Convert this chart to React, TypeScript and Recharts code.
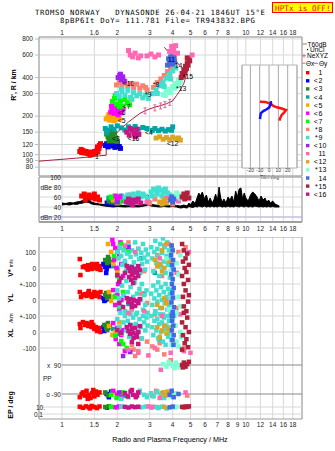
import React from 'react';
import {
  ComposedChart,
  Scatter,
  Line,
  Area,
  XAxis,
  YAxis,
  CartesianGrid,
  ReferenceLine,
  ReferenceArea,
} from 'recharts';

type Pt = [number, number];

const W = 335;
const FONT = '"Liberation Sans", Arial, sans-serif';
const MONO = '"DejaVu Sans Mono", monospace';

const F_DOMAIN: [number, number] = [0.75, 20.2];
const F_TICKS = [1, 1.5, 2, 3, 4, 5, 6, 7, 8, 9, 10, 12, 14, 16, 18];
const TOP_F_LABEL: Record<number, string> = { 1.5: '1.6', 9: '' };
const H_DOMAIN: [number, number] = [68.2, 829];
const H_TICKS = [80, 90, 100, 120, 150, 200, 300, 400, 600, 800];
const DB_DOMAIN: [number, number] = [10, 100];
const DB_TICKS = [20, 40, 60, 80, 100];
const DB_LABEL: Record<number, string> = { 100: '100', 80: 'dBe 80', 60: '60', 40: '40', 20: 'dBn 20' };

// lower panel: one virtual axis, 100 units per band step
const MID_DOMAIN: [number, number] = [-943.75, 193.75];
const YL_OFF = -200;
const XL_OFF = -400;
const X90_ROW = -606.25;
const PP_NAME_ROW = -690;
const PP_ROW = -787.5;
const EP_ROW = -868.75;
const EP_DEC = 21.875;

const TILT_DOMAIN: [number, number] = [-29, 30];
const TILT_TICKS = [-20, -10, 0, 10, 20];
const TILT_H: [number, number] = [78.6, 501];

const NAMES = ['1', '<2', '<3', '<4', '<5', '<6', '<7', '*8', '*9', '<10', '11', '<12', '*13', '14', '*15', '<16'];
const COLORS = [
  '#ff0000', '#0000ff', '#228b22', '#00a5a5', '#ffa500', '#ff00ff', '#00ff00', '#fa8072',
  '#40e0d0', '#a020f0', '#ff69b4', '#daa520', '#7fffd4', '#4169e1', '#b0203c', '#c71585',
];

// ---- virtual height (MHz, km) ----
const h01: Pt[] = [[1.25,106],[1.27,110],[1.28,104],[1.3,108],[1.33,103],[1.35,106],[1.38,102],[1.4,105],[1.42,99],[1.43,101],[1.45,104],[1.48,102],[1.5,106],[1.52,103],[1.55,108],[1.56,115],[1.57,105],[1.59,112],[1.6,118],[1.62,122]];
const h02: Pt[] = [[1.72,118],[1.75,122],[1.78,115],[1.8,120],[1.82,126],[1.84,124],[1.87,117],[1.9,121],[1.92,126],[1.94,114],[1.97,119],[2.0,123],[2.05,116],[2.08,112]];
const h03: Pt[] = [[1.75,145],[1.78,138],[1.8,150],[1.8,128],[1.83,132],[1.86,142],[1.88,152],[1.9,128],[1.93,147],[1.96,135],[1.99,127]];
const h04: Pt[] = [[1.72,160],[1.75,148],[1.78,155],[1.85,165],[1.92,158],[2.0,168],[2.1,162],[2.2,156],[2.3,165],[2.4,160],[2.5,166],[2.6,158],[2.75,163],[2.9,160],[3.1,155],[3.2,160],[3.35,154],[3.5,158],[3.65,153],[3.8,157],[3.95,155],[4.0,165]];
const h05: Pt[] = [[1.74,190],[1.78,198],[1.8,206],[1.82,186],[1.86,202],[1.9,193],[1.92,184],[1.95,188],[2.0,200],[2.05,191]];
const h06: Pt[] = [[1.84,215],[1.86,238],[1.88,230],[1.9,245],[1.92,210],[1.96,240],[2.0,222],[2.02,205],[2.05,235],[2.1,212],[2.15,228]];
const h07: Pt[] = [[1.88,260],[1.93,275],[1.95,290],[1.98,248],[2.03,282],[2.05,238],[2.08,262],[2.13,240],[2.2,270],[2.27,255],[2.33,245]];
const h08: Pt[] = [[1.98,350],[2.05,365],[2.12,340],[2.2,372],[2.28,345],[2.36,360],[2.45,335],[2.55,355],[2.65,330],[2.75,345],[2.85,335],[2.9,320],[3.15,335],[3.3,365],[3.45,390],[3.5,360],[3.6,415],[3.75,445],[3.8,400],[3.9,480],[4.05,520],[4.1,570]];
const h09: Pt[] = [[1.98,300],[2.05,285],[2.1,325],[2.12,310],[2.2,292],[2.28,318],[2.36,280],[2.4,270],[2.45,305],[2.55,288],[2.65,300],[2.75,278],[2.85,292],[2.95,275],[3.1,300],[3.25,320],[3.3,300],[3.4,345],[3.55,370],[3.6,340],[3.7,395],[3.85,425],[3.9,390],[4.0,450],[4.15,475]];
const h10: Pt[] = [[2.02,400],[2.06,415],[2.08,425],[2.1,385],[2.14,405],[2.18,375]];
const h11: Pt[] = [[2.3,650],[2.35,600],[2.42,580],[2.5,620],[2.6,570],[2.68,590],[2.9,590],[3.05,610],[3.2,580],[3.35,600],[3.85,640],[3.95,700],[4.0,610],[4.05,660],[4.15,710],[4.25,620],[5.1,600]];
const h12: Pt[] = [[3.25,135],[3.4,138],[3.55,132],[3.7,136],[3.85,131],[4.0,137],[4.15,133],[4.3,135],[4.4,130]];
const h13: Pt[] = [[3.55,295],[3.65,290],[3.7,310],[3.85,325],[3.9,305],[4.0,340],[4.1,330],[4.15,360],[4.25,345],[4.3,380],[4.4,365]];
const h14: Pt[] = [[3.75,500],[3.8,560],[3.85,520],[3.9,580],[3.95,545],[4.0,510],[4.05,570],[4.1,530]];
const h15: Pt[] = [[4.45,400],[4.5,430],[4.55,410],[4.6,460],[4.65,440],[4.7,490],[4.75,470],[4.8,520],[4.8,570],[4.85,500],[4.9,550],[4.95,540]];
const h16: Pt[] = [[2.25,150],[2.32,142],[2.35,160],[2.4,155],[2.48,146],[2.5,138],[2.55,158],[2.62,144]];

// label anchors of the traces (MHz, km)
const TRACE_LABEL_AT: Pt[] = [
  [1.51,97],[1.89,115.6],[1.87,132.6],[2.83,150],[2.01,184],[2.01,215],[2.14,238],[3.12,356],
  [2.83,297],[2.14,362],[3.77,557],[3.72,123],[4.17,330],[4.11,493],[4.54,405],[2.28,134],
];

// electron density profile and its error marks (MHz, km)
const profile: Pt[] = [[0.75,89],[0.9,91],[1.0,92],[1.2,94],[1.4,96],[1.6,98],[1.74,99],[1.74,118],[2.0,150],[2.3,180],[2.65,210],[2.93,225],[3.2,235],[3.45,242],[3.7,250],[3.99,262],[4.2,290],[4.4,320],[4.6,360],[4.75,420],[4.9,490],[4.96,530]];
const profileTop: Pt[] = [[3.6,690],[4.0,580],[4.35,500]];
const neMarks: Pt[] = [[2.83,220],[3.2,232],[3.44,240],[3.63,246],[3.86,256]];

// tilt inset (deg, km)
const tiltX: Pt[] = [[-9.7,259],[-4,258],[2.1,248],[4.6,240],[8.3,234],[13.6,229],[18.2,223],[16.1,213],[13.6,204],[11.8,192],[11.1,184]];
const tiltY: Pt[] = [[-9.7,189],[-8.9,210],[-6.1,219],[-2.5,226],[0.3,234],[2.1,252],[1.8,262]];

// ---- echo amplitude (MHz, dB) ----
const noise: [number, number, number][] = [
  [1.0,44,48],[1.05,45,47],[1.1,44,49],[1.15,46,48],[1.2,45,50],[1.25,47,51],[1.3,48,53],[1.35,50,57],[1.4,49,55],[1.45,46,50],[1.5,45,48],[1.6,44,46],[1.7,42,45],[1.8,41,44],[1.9,40,43],[2.0,41,44],[2.2,40,43],[2.4,41,44],[2.6,40,43],[2.8,42,45],[2.9,43,50],[2.95,44,64],[3.0,43,54],[3.05,42,46],[3.2,41,44],[3.4,40,43],[3.6,41,44],[3.8,40,43],[4.0,41,44],[4.2,40,43],[4.4,38,42],[4.6,39,44],[4.8,38,42],[4.9,41,48],[5.0,40,44],[5.15,39,52],[5.3,41,47],[5.45,40,60],[5.55,42,68],[5.65,41,62],[5.8,40,70],[5.95,42,56],[6.1,40,64],[6.25,41,50],[6.4,40,58],[6.55,42,48],[6.7,40,54],[6.85,41,66],[7.0,40,52],[7.15,42,80],[7.3,41,58],[7.45,40,50],[7.6,41,56],[7.8,40,48],[8.0,42,60],[8.2,40,54],[8.4,41,62],[8.6,40,50],[8.8,42,72],[9.0,41,60],[9.2,40,76],[9.4,42,78],[9.6,41,56],[9.8,40,68],[10.0,42,58],[10.3,40,52],[10.6,41,64],[10.9,40,70],[11.2,42,66],[11.5,41,60],[11.8,40,52],[12.1,41,62],[12.4,40,54],[12.7,41,58],[13.0,40,50],[13.3,41,54],[13.6,40,48],[14.0,41,52],[14.4,40,46],[14.8,40,44],[15.2,40,42],
];
const a01: Pt[] = [[1.28,62],[1.32,66],[1.34,54],[1.36,60],[1.4,64],[1.44,58],[1.48,62],[1.5,66],[1.52,56],[1.56,60],[1.6,54]];
const a02: Pt[] = [[1.76,48],[1.82,54],[1.88,46],[1.95,52]];
const a03: Pt[] = [[1.8,52],[1.85,56],[1.9,50],[1.95,60]];
const a04: Pt[] = [[1.8,58],[2.1,62],[2.3,48]];
const a05: Pt[] = [[1.9,54],[2.0,48],[2.1,56]];
const a06: Pt[] = [[1.95,62],[2.0,56],[2.08,60],[2.15,52]];
const a07: Pt[] = [[1.85,60],[2.05,50],[2.2,54]];
const a08: Pt[] = [[2.35,64],[3.0,48],[3.2,56],[3.6,52],[4.0,46]];
const a09: Pt[] = [[2.2,60],[2.28,64],[2.36,58],[2.4,52],[2.44,66],[2.52,62],[2.6,68],[2.68,60],[2.76,66],[2.84,62],[2.92,58],[3.05,70],[3.1,62],[3.15,76],[3.25,72],[3.3,66],[3.35,78],[3.45,74],[3.5,62],[3.55,70],[3.65,76],[3.75,68],[3.85,64],[3.95,58]];
const a10: Pt[] = [[2.0,50]];
const a11: Pt[] = [[2.9,50],[3.7,58],[4.3,52]];
const a12: Pt[] = [[3.4,50],[3.5,46],[3.6,54],[3.7,48]];
const a13: Pt[] = [[4.1,62],[4.2,68],[4.3,64],[4.4,58]];
const a14: Pt[] = [[3.9,54],[3.95,60],[4.0,50],[4.05,56]];
const a15: Pt[] = [[4.5,60],[4.6,66],[4.65,56],[4.7,62],[4.8,68],[4.9,58]];
const a16: Pt[] = [[2.25,50],[2.3,56],[2.38,48],[2.42,44],[2.45,54],[2.52,50],[2.6,56],[2.68,48]];

// ---- V* (m/s), YL and XL (km) ----
const v01: Pt[] = [[1.25,56],[1.26,-44],[1.3,6],[1.33,12],[1.36,0],[1.38,-10],[1.39,18],[1.42,6],[1.45,-6],[1.46,25],[1.48,12],[1.5,0],[1.53,19],[1.55,25],[1.56,-6],[1.59,6],[1.6,12],[1.62,-12]];
const y01: Pt[] = [[1.25,50],[1.27,19],[1.3,31],[1.33,37],[1.36,25],[1.39,44],[1.4,56],[1.42,31],[1.45,19],[1.48,37],[1.5,50],[1.51,25],[1.54,44],[1.57,31],[1.6,19],[1.62,50]];
const x01: Pt[] = [[1.25,50],[1.26,25],[1.3,62],[1.33,44],[1.36,56],[1.39,37],[1.42,50],[1.45,31],[1.45,62],[1.48,44],[1.5,19],[1.53,31],[1.55,6],[1.56,12],[1.59,25],[1.62,0]];
const v02: Pt[] = [[1.68,25],[1.7,19],[1.72,6],[1.74,-31],[1.75,-6],[1.8,12]];
const y02: Pt[] = [[1.68,12],[1.7,-6],[1.72,0],[1.76,19],[1.8,6]];
const x02: Pt[] = [[1.68,31],[1.7,6],[1.72,19],[1.75,44],[1.78,25]];
const v03: Pt[] = [[1.72,50],[1.76,31],[1.78,69],[1.8,56],[1.84,37]];
const y03: Pt[] = [[1.72,31],[1.74,44],[1.76,12],[1.8,37],[1.84,19]];
const x03: Pt[] = [[1.7,44],[1.74,25],[1.76,12],[1.78,56],[1.82,31]];
const v04: Pt[] = [[1.9,12],[2.0,-6],[2.2,31],[2.4,-19],[2.7,60],[3.2,-30]];
const y04: Pt[] = [[1.95,25],[2.1,0],[2.3,-25],[2.8,40]];
const x04: Pt[] = [[1.9,19],[2.05,-12],[2.3,6],[3.4,-50]];
const v05: Pt[] = [[1.78,150],[1.85,100],[1.9,25],[1.95,62],[2.0,-25],[2.05,125]];
const y05: Pt[] = [[1.8,50],[1.85,-6],[1.9,19],[2.0,-31]];
const x05: Pt[] = [[1.8,37],[1.88,-19],[1.95,0],[2.05,62]];
const v06: Pt[] = [[1.88,175],[1.9,150],[1.92,50],[1.95,125],[1.98,0],[2.0,100],[2.02,-100],[2.05,75],[2.08,160],[2.1,25],[2.15,-50]];
const y06: Pt[] = [[1.9,62],[1.95,-31],[2.0,31],[2.05,-56],[2.1,0],[2.15,44]];
const x06: Pt[] = [[1.9,56],[1.96,-44],[2.0,25],[2.05,-75],[2.1,-19],[2.12,12],[2.2,-119]];
const v07: Pt[] = [[1.92,75],[2.0,-50],[2.05,-75],[2.1,150],[2.2,125],[2.3,100]];
const y07: Pt[] = [[1.95,19],[2.05,-44],[2.15,50],[2.25,-81]];
const x07: Pt[] = [[1.95,-25],[2.05,31],[2.1,-56],[2.15,-75],[2.25,-100]];
const v08: Pt[] = [[2.3,160],[2.6,120],[2.8,-20],[3.3,80],[3.5,-50],[3.6,140],[4.3,100],[4.7,130]];
const y08: Pt[] = [[2.4,-60],[2.7,40],[2.9,-20],[3.2,-90],[3.7,0],[4.2,-50]];
const x08: Pt[] = [[2.4,-80],[2.45,-110],[2.5,-150],[2.6,-120],[2.7,-40],[2.9,-60],[3.1,-90],[3.3,-110],[3.4,-70],[3.6,-140],[4.6,-100]];
const v09: Pt[] = [[2.0,100],[2.03,60],[2.06,130],[2.1,75],[2.13,20],[2.16,110],[2.2,45],[2.23,-20],[2.26,90],[2.3,140],[2.33,10],[2.36,70],[2.4,110],[2.43,-40],[2.46,35],[2.5,160],[2.53,85],[2.56,0],[2.6,120],[2.63,55],[2.66,-30],[2.7,95],[2.73,25],[2.76,150],[2.8,65],[2.83,-10],[2.86,115],[2.9,40],[2.93,85],[3.06,130],[3.1,60],[3.14,-20],[3.18,100],[3.22,170],[3.26,30],[3.3,120],[3.34,70],[3.38,-50],[3.42,150],[3.46,10],[3.5,95],[3.54,185],[3.58,40],[3.62,130],[3.66,-30],[3.7,75],[3.74,160],[3.78,20],[3.82,110],[3.86,-60],[3.9,60],[3.94,140],[3.98,0]];
const y09: Pt[] = [[2.0,60],[2.04,10],[2.08,-40],[2.12,90],[2.16,30],[2.2,-70],[2.24,120],[2.28,50],[2.32,-10],[2.36,80],[2.4,-50],[2.44,20],[2.48,110],[2.52,-90],[2.56,40],[2.6,-20],[2.64,70],[2.68,0],[2.72,100],[2.76,-60],[2.8,30],[2.84,-30],[2.88,60],[2.92,-80],[3.06,40],[3.1,-30],[3.14,90],[3.18,10],[3.22,-70],[3.26,60],[3.3,-10],[3.34,110],[3.38,30],[3.42,-50],[3.46,80],[3.5,0],[3.54,-90],[3.58,50],[3.62,-20],[3.66,100],[3.7,20],[3.74,-60],[3.78,70],[3.82,-30],[3.86,40],[3.9,-80],[3.94,10],[3.98,60]];
const x09: Pt[] = [[2.0,80],[2.04,30],[2.08,120],[2.12,-10],[2.16,60],[2.2,100],[2.24,10],[2.28,70],[2.32,-30],[2.36,110],[2.4,40],[2.44,90],[2.48,-20],[2.52,50],[2.56,120],[2.6,0],[2.64,80],[2.68,30],[2.72,-40],[2.76,100],[2.8,60],[2.84,10],[2.88,90],[2.92,40],[3.06,100],[3.1,30],[3.14,-20],[3.18,70],[3.22,120],[3.26,10],[3.3,80],[3.34,-40],[3.38,50],[3.42,110],[3.46,0],[3.5,60],[3.54,-60],[3.58,90],[3.62,20],[3.66,-80],[3.7,40],[3.74,100],[3.78,-30],[3.82,70],[3.86,-10],[3.9,30],[3.94,-50],[3.98,80]];
const v10: Pt[] = [[2.3,130]];
const x10: Pt[] = [[2.15,-150],[2.35,-125]];
const v11: Pt[] = [[2.2,140],[2.5,100],[3.4,60],[3.8,150],[4.2,-30],[4.9,100]];
const y11: Pt[] = [[2.3,-80],[2.8,-70],[3.5,-100],[4.4,-90]];
const x11: Pt[] = [[2.3,-110],[2.6,-130],[3.2,-100],[3.9,-130],[4.6,-120],[5.0,-130]];
const v12: Pt[] = [[3.2,50],[3.3,10],[3.4,25],[3.5,-20],[3.5,110],[3.6,0],[3.7,150],[3.8,40]];
const y12: Pt[] = [[3.3,-30],[3.5,-50],[3.6,10],[3.7,-20]];
const x12: Pt[] = [[3.3,30],[3.4,-30],[3.5,10],[3.6,40],[3.7,-10],[3.8,20]];
const v13: Pt[] = [[3.7,60],[3.9,-20],[4.2,30],[4.3,-40],[4.4,80]];
const y13: Pt[] = [[3.8,-60],[4.1,-100],[4.2,-80],[4.3,20],[4.4,-40]];
const x13: Pt[] = [[3.95,-80],[4.0,-20],[4.15,40],[4.2,-60],[4.3,-90],[4.4,0],[4.45,-30]];
const v14: Pt[] = [[3.95,140],[4.0,110],[3.92,80],[4.02,50],[3.97,20],[4.05,-10],[3.93,-40],[4.0,-70],[3.96,-100]];
const y14: Pt[] = [[4.05,75],[3.98,45],[4.02,15],[3.94,-15],[4.06,-45],[4.0,-75],[3.95,-100]];
const x14: Pt[] = [[4.02,100],[3.97,70],[4.03,40],[3.96,10],[4.05,-20],[3.99,-50],[4.04,-80]];
const v15: Pt[] = [[4.5,150],[4.6,110],[4.8,90],[4.7,60],[4.55,40],[4.9,20],[4.65,0],[4.75,-25],[4.5,-50],[4.85,-75],[4.6,-100]];
const y15: Pt[] = [[4.7,60],[4.9,30],[4.55,20],[4.85,-10],[4.6,-40],[4.75,-70]];
const x15: Pt[] = [[4.6,120],[4.8,90],[4.5,60],[4.7,30],[4.9,0],[4.55,-20],[4.75,-45],[4.65,-70],[4.85,-95],[4.5,-110]];
const v16: Pt[] = [[2.0,-44],[2.05,-87],[2.1,-62],[2.2,-31],[2.25,12],[2.3,0],[2.32,-56],[2.35,-19],[2.38,-75],[2.4,6],[2.4,-44],[2.44,-94],[2.45,-31],[2.5,-6],[2.5,-62],[2.55,-25],[2.6,12],[2.6,-50],[2.65,-12]];
const y16: Pt[] = [[2.05,-19],[2.15,-44],[2.25,12],[2.3,-12],[2.35,6],[2.4,-25],[2.4,-44],[2.45,0],[2.5,-37],[2.55,-6],[2.6,-19],[2.65,6]];
const x16: Pt[] = [[2.0,12],[2.1,-6],[2.25,31],[2.3,6],[2.35,44],[2.35,-12],[2.4,19],[2.4,-62],[2.45,-6],[2.45,-37],[2.5,25],[2.55,-19],[2.55,-31],[2.6,0],[2.6,-75],[2.65,37]];

// ---- polarisation near -90 and +90 (deg), echo elevation (deg) ----
const p01: Pt[] = [[1.25,-110],[1.28,-90],[1.3,-80],[1.33,-100],[1.36,-70],[1.38,-120],[1.4,-95],[1.43,-115],[1.46,-85],[1.48,-65],[1.5,-105],[1.53,-75],[1.56,-95],[1.6,-80]];
const p02: Pt[] = [[1.75,-90],[1.8,-110],[1.85,-75]];
const p03: Pt[] = [[1.72,-80],[1.78,-100]];
const p04: Pt[] = [[1.88,-75],[2.2,-100]];
const p05: Pt[] = [[1.95,-85],[2.05,-105]];
const p06: Pt[] = [[1.9,-70],[2.0,-95],[2.1,-110]];
const p07: Pt[] = [[1.85,-95],[1.98,-115],[2.15,-80]];
const p08: Pt[] = [[3.1,-100],[3.25,-70],[3.5,-85],[4.8,-100]];
const p09: Pt[] = [[2.1,-120],[2.3,-110],[2.65,-70],[2.8,-95],[2.9,-110],[3.05,-85],[3.15,-105],[3.3,-75],[3.45,-95],[3.6,-115]];
const p10: Pt[] = [[2.05,-80]];
const p11: Pt[] = [[3.4,-115],[4.7,-80]];
const p12: Pt[] = [[3.55,-80],[3.65,-100],[3.75,-75]];
const p13: Pt[] = [[3.9,-105],[4.15,-85]];
const p14: Pt[] = [[3.85,-95],[3.95,-70],[4.05,-110],[4.3,-90]];
const p16: Pt[] = [[2.2,-85],[2.28,-105],[2.36,-75],[2.4,-65],[2.44,-95],[2.52,-110],[2.56,-100],[2.6,-80]];
const q08: Pt[] = [[3.9,120]];
const q11: Pt[] = [[2.95,150],[3.45,60]];
const q13: Pt[] = [[3.55,95],[3.7,80],[3.8,110],[3.85,100],[4.0,85],[4.1,70],[4.15,105],[4.3,90],[4.4,75]];
const q15: Pt[] = [[4.5,90],[4.55,75],[4.6,105],[4.7,80],[4.8,95],[4.9,110]];
const e01: Pt[] = [[1.25,12],[1.3,6],[1.35,15],[1.4,8],[1.42,4],[1.45,20],[1.5,10],[1.55,5],[1.6,14]];
const e02: Pt[] = [[1.76,7]];
const e03: Pt[] = [[1.72,10],[1.8,16]];
const e05: Pt[] = [[2.0,6]];
const e06: Pt[] = [[1.95,9],[2.05,15]];
const e07: Pt[] = [[1.85,12]];
const e08: Pt[] = [[3.3,9]];
const e09: Pt[] = [[2.1,14],[2.7,8],[2.85,13],[3.05,6],[3.2,10],[3.35,5],[3.5,12],[3.7,4]];
const e11: Pt[] = [[2.95,15],[3.1,11]];
const e12: Pt[] = [[3.6,11]];
const e13: Pt[] = [[4.1,7],[4.2,12]];
const e14: Pt[] = [[3.85,8],[4.0,13]];
const e15: Pt[] = [[4.5,11],[4.6,8],[4.7,14],[4.8,10],[4.9,15]];
const e16: Pt[] = [[2.2,11],[2.3,7],[2.4,14],[2.5,9],[2.6,12]];

const E: Pt[] = [];
const SERIES = NAMES.map((name, i) => ({
  name,
  color: COLORS[i],
  top: [h01, h02, h03, h04, h05, h06, h07, h08, h09, h10, h11, h12, h13, h14, h15, h16][i],
  amp: [a01, a02, a03, a04, a05, a06, a07, a08, a09, a10, a11, a12, a13, a14, a15, a16][i],
  vel: [v01, v02, v03, v04, v05, v06, v07, v08, v09, v10, v11, v12, v13, v14, v15, v16][i],
  yl: [y01, y02, y03, y04, y05, y06, y07, y08, y09, E, y11, y12, y13, y14, y15, y16][i],
  xl: [x01, x02, x03, x04, x05, x06, x07, x08, x09, x10, x11, x12, x13, x14, x15, x16][i],
  pp: [p01, p02, p03, p04, p05, p06, p07, p08, p09, p10, p11, p12, p13, p14, E, p16][i],
  x90: [E, E, E, E, E, E, E, q08, E, E, q11, E, q13, E, q15, E][i],
  ep: [e01, e02, e03, E, e05, e06, e07, e08, e09, E, e11, e12, e13, e14, e15, e16][i],
}));

const xy = (pts: Pt[], f: (v: number) => number = (v) => v) => pts.map(([x, v]) => ({ x, y: f(v) }));

const square = (size: number, color: string) => (p: any) =>
  p.cx == null ? <g /> : <rect x={p.cx - size / 2} y={p.cy - size / 2} width={size} height={size} fill={color} />;

const PROFILE_C = '#a8203c';
const NE_C = '#e8609a';
const GRID = '#d8d8d8';
const FRAME = '#9a9a9a';
const tickFont = { fontSize: 6.5, fill: '#222', fontFamily: FONT };

const freqAxis = (extra: any) => (
  <XAxis
    dataKey="x"
    type="number"
    scale="log"
    domain={F_DOMAIN}
    allowDataOverflow
    ticks={F_TICKS}
    interval={0}
    tick={tickFont}
    tickLine={false}
    {...extra}
  />
);

function TopPanel() {
  const labels = TRACE_LABEL_AT.map(([x, y], i) => ({ x, y, t: NAMES[i] }));
  return (
    <ComposedChart width={W} height={177} margin={{ top: 23, right: 33, bottom: 1, left: 0 }}>
      <CartesianGrid stroke={GRID} />
      {freqAxis({
        orientation: 'top',
        height: 14,
        axisLine: false,
        tickSize: 1,
        tickMargin: 1,
        tickFormatter: (v: number) => TOP_F_LABEL[v] ?? String(v),
      })}
      <YAxis
        dataKey="y"
        type="number"
        scale="log"
        domain={H_DOMAIN}
        allowDataOverflow
        ticks={H_TICKS}
        interval={0}
        width={39}
        axisLine={false}
        tickLine={{ stroke: '#bbb' }}
        tickSize={4}
        tickMargin={2}
        tick={tickFont}
      />
      <ReferenceArea x1={F_DOMAIN[0]} x2={F_DOMAIN[1]} y1={H_DOMAIN[0]} y2={H_DOMAIN[1]} fill="none" stroke={FRAME} />
      {SERIES.map((s) => (
        <Scatter key={s.name} data={xy(s.top)} shape={square(5, s.color)} isAnimationActive={false} />
      ))}
      <Line data={xy(profile)} dataKey="y" stroke={PROFILE_C} strokeWidth={1} dot={false} isAnimationActive={false} />
      <Line data={xy(profileTop)} dataKey="y" stroke={PROFILE_C} strokeWidth={1} dot={false} isAnimationActive={false} />
      <Scatter
        data={xy(neMarks)}
        isAnimationActive={false}
        shape={(p: any) => (
          <g stroke={NE_C} strokeWidth={1}>
            <line x1={p.cx} x2={p.cx} y1={p.cy - 3} y2={p.cy + 3} />
            <line x1={p.cx - 1.5} x2={p.cx + 1.5} y1={p.cy - 3} y2={p.cy - 3} />
            <line x1={p.cx - 1.5} x2={p.cx + 1.5} y1={p.cy + 3} y2={p.cy + 3} />
          </g>
        )}
      />
      <Scatter
        data={labels}
        isAnimationActive={false}
        shape={(p: any) => (
          <text x={p.cx} y={p.cy} dominantBaseline="central" fontSize={6.8} fontFamily={FONT} fill="#000">
            {p.payload?.t ?? p.t}
          </text>
        )}
      />
    </ComposedChart>
  );
}

function TiltInset() {
  return (
    <ComposedChart width={63} height={118} margin={{ top: 1, right: 4, bottom: 0, left: 4 }}>
      <CartesianGrid horizontal={false} stroke="#a8a8a8" />
      <XAxis
        dataKey="x"
        type="number"
        domain={TILT_DOMAIN}
        allowDataOverflow
        ticks={TILT_TICKS}
        interval={0}
        height={14}
        axisLine={false}
        tickLine={false}
        tickSize={0}
        tickMargin={0.5}
        tick={{ fontSize: 5, fill: '#333', fontFamily: FONT }}
        label={{ value: 'Tilt / deg', position: 'insideBottom', offset: 3, fontSize: 5, fill: '#333', fontFamily: FONT }}
      />
      <YAxis dataKey="y" type="number" scale="log" domain={TILT_H} allowDataOverflow hide />
      <ReferenceArea x1={TILT_DOMAIN[0]} x2={TILT_DOMAIN[1]} y1={TILT_H[0]} y2={TILT_H[1]} fill="none" stroke="#b4b4b4" />
      <Line data={xy(tiltX)} dataKey="y" stroke="#ff1010" strokeWidth={2.5} dot={false} isAnimationActive={false} />
      <Line data={xy(tiltY)} dataKey="y" stroke="#1010ff" strokeWidth={2.5} dot={false} isAnimationActive={false} />
    </ComposedChart>
  );
}

function AmpPanel() {
  const band = noise.map(([x, lo, hi]) => ({ x, r: [lo, hi] }));
  return (
    <ComposedChart width={W} height={60} margin={{ top: 4, right: 33, bottom: 0, left: 39 }}>
      <CartesianGrid stroke={GRID} />
      {freqAxis({
        orientation: 'bottom',
        height: 11,
        axisLine: { stroke: '#a0a0a0', strokeWidth: 2 },
        tickSize: 2,
        tickMargin: 2.5,
      })}
      <YAxis
        dataKey="y"
        type="number"
        domain={DB_DOMAIN}
        allowDataOverflow
        ticks={DB_TICKS}
        interval={0}
        mirror
        axisLine={false}
        tickLine={false}
        tick={(p: any) => (
          <text x={61} y={p.y} textAnchor="end" dominantBaseline="central" fontSize={6.5} fill="#222" fontFamily={FONT}>
            {DB_LABEL[p.payload.value]}
          </text>
        )}
      />
      <ReferenceLine y={20} stroke="#b4b4ec" />
      <ReferenceArea x1={F_DOMAIN[0]} x2={F_DOMAIN[1]} y1={DB_DOMAIN[0]} y2={DB_DOMAIN[1]} fill="none" stroke={FRAME} />
      <Area data={band} dataKey="r" type="linear" stroke="#000" strokeWidth={1} fill="#000" fillOpacity={1} isAnimationActive={false} />
      {SERIES.map((s) => (
        <Scatter key={s.name} data={xy(s.amp)} shape={square(5, s.color)} isAnimationActive={false} />
      ))}
    </ComposedChart>
  );
}

const MID_LABELS: [number, string, number, 'start' | 'end'][] = [
  [100, '100', 36, 'end'],
  [0, '0', 36, 'end'],
  [-100, '+-100', 36, 'end'],
  [YL_OFF, '0', 36, 'end'],
  [YL_OFF - 100, '+-100', 36, 'end'],
  [XL_OFF, '0', 36, 'end'],
  [XL_OFF - 100, '-100', 36, 'end'],
  [X90_ROW, 'x  90', 61, 'end'],
  [PP_NAME_ROW, 'PP', 43, 'start'],
  [PP_ROW, 'o -90', 61, 'end'],
  [EP_ROW, '10.', 45, 'end'],
  [EP_ROW - 2 * EP_DEC, '0.1', 43, 'end'],
];
const MID_LIGHT = [100, 0, -100, YL_OFF, YL_OFF - 100, XL_OFF, XL_OFF - 100, EP_ROW, EP_ROW - 2 * EP_DEC];
const MID_DARK = [X90_ROW, PP_ROW];

function MotionPanel() {
  return (
    <ComposedChart width={W} height={197} margin={{ top: 0, right: 33, bottom: 0, left: 0 }}>
      <CartesianGrid horizontal={false} stroke={GRID} />
      {freqAxis({
        orientation: 'bottom',
        height: 15,
        axisLine: false,
        tickSize: 2,
        tickMargin: 1.5,
      })}
      <YAxis
        dataKey="y"
        type="number"
        domain={MID_DOMAIN}
        allowDataOverflow
        ticks={MID_LABELS.map((m) => m[0])}
        interval={0}
        width={39}
        axisLine={false}
        tickLine={false}
        tick={(p: any) => {
          const m = MID_LABELS.find((e) => Math.abs(e[0] - p.payload.value) < 0.01);
          if (!m) return <g />;
          return (
            <text x={m[2]} y={p.y} textAnchor={m[3]} dominantBaseline="central" fontSize={6.5} fill="#222" fontFamily={FONT}>
              <tspan style={{ whiteSpace: 'pre' }}>{m[1]}</tspan>
            </text>
          );
        }}
      />
      {MID_LIGHT.map((v) => (
        <ReferenceLine key={v} y={v} stroke={GRID} />
      ))}
      {MID_DARK.map((v) => (
        <ReferenceLine key={v} segment={[{ x: 1, y: v }, { x: F_DOMAIN[1], y: v }]} stroke="#888" />
      ))}
      <ReferenceArea x1={F_DOMAIN[0]} x2={F_DOMAIN[1]} y1={MID_DOMAIN[0]} y2={MID_DOMAIN[1]} fill="none" stroke={FRAME} />
      {SERIES.map((s) => (
        <Scatter
          key={s.name}
          data={[
            ...xy(s.vel),
            ...xy(s.yl, (v) => v + YL_OFF),
            ...xy(s.xl, (v) => v + XL_OFF),
            ...xy(s.x90, (v) => X90_ROW + (v - 90)),
            ...xy(s.pp, (v) => PP_ROW + (v + 90)),
            ...xy(s.ep, (v) => EP_ROW + Math.log10(v / 10) * EP_DEC),
          ]}
          shape={square(4.5, s.color)}
          isAnimationActive={false}
        />
      ))}
    </ComposedChart>
  );
}

function Overlay() {
  const t = { fontFamily: FONT, fill: '#000' };
  return (
    <svg width={W} height={451} style={{ position: 'absolute', left: 0, top: 0, pointerEvents: 'none' }}>
      <text x={35} y={14.6} fontFamily={MONO} fontSize={7.3} textLength={230} lengthAdjust="spacing" style={{ whiteSpace: 'pre' }}>
        TROMSO NORWAY   DYNASONDE 26-04-21 1846UT 15°E
      </text>
      <text x={60} y={23.2} fontFamily={MONO} fontSize={7.3} textLength={195} lengthAdjust="spacing" style={{ whiteSpace: 'pre' }}>
        8pBP6It DoY= 111.781 File= TR943832.BPG
      </text>
      <rect x={272.5} y={2.5} width={60} height={10} fill="#ffff00" stroke="#ff0000" />
      <text x={275} y={10.6} fontFamily={MONO} fontSize={7.7} fill="#ff0000">HPTx is OFF!</text>

      <text transform="translate(15.5,85) rotate(-90)" textAnchor="middle" fontSize={7} fontWeight="bold" {...t}>
        R', R / km
      </text>
      <text transform="translate(12.5,268) rotate(-90)" textAnchor="middle" fontSize={7} fontWeight="bold" {...t}>
        V* <tspan fontSize={5} fontWeight="normal">m/s</tspan>
      </text>
      <text transform="translate(12.5,298) rotate(-90)" textAnchor="middle" fontSize={7} fontWeight="bold" {...t}>YL</text>
      <text transform="translate(12.5,318) rotate(-90)" textAnchor="middle" fontSize={6} {...t}>/km</text>
      <text transform="translate(12.5,333) rotate(-90)" textAnchor="middle" fontSize={7} fontWeight="bold" {...t}>XL</text>
      <text transform="translate(12.5,405) rotate(-90)" textAnchor="middle" fontSize={7} fontWeight="bold" {...t}>EP / deg</text>
      <text x={170} y={441.5} textAnchor="middle" fontSize={7.2} {...t}>Radio and Plasma Frequency / MHz</text>

      <line x1={302} x2={307} y1={44} y2={44} stroke="#aaa" strokeWidth={1.5} />
      <text x={307.5} y={44} dominantBaseline="central" fontSize={6.5} {...t}>T60dB</text>
      <circle cx={307.5} cy={49.5} r={0.7} fill="#000" />
      <text x={310} y={49.5} dominantBaseline="central" fontSize={6.5} {...t}>UnCl</text>
      <line x1={302} x2={306} y1={55.7} y2={55.7} stroke={NE_C} />
      <line x1={304} x2={304} y1={53.7} y2={57.7} stroke={NE_C} />
      <text x={307} y={55.7} dominantBaseline="central" fontSize={6.5} {...t}>NeXYZ</text>
      <line x1={302} x2={305.5} y1={63.3} y2={63.3} stroke="#f08080" strokeWidth={1.2} />
      <text x={306} y={63.3} dominantBaseline="central" fontSize={6.5} {...t}>Θx</text>
      <line x1={314} x2={318} y1={63.3} y2={63.3} stroke="#8080ff" strokeWidth={1.2} />
      <text x={319} y={63.3} dominantBaseline="central" fontSize={6.5} {...t}>Θy</text>
      {SERIES.map((s, i) => {
        const y = 72.7 + 8.1 * i;
        const digits = s.name.replace(/[^0-9]/g, '');
        const prefix = s.name.replace(/[0-9]/g, '');
        return (
          <g key={s.name}>
            <rect x={306} y={y - 1.7} width={3.4} height={3.4} fill={s.color} />
            <text x={317.8} y={y} textAnchor="end" dominantBaseline="central" fontSize={7} {...t}>{prefix}</text>
            <text x={318.5} y={y} dominantBaseline="central" fontSize={7} {...t}>{digits}</text>
          </g>
        );
      })}
    </svg>
  );
}

export default function App() {
  return (
    <div style={{ position: 'relative', width: W, height: 451, overflow: 'hidden', background: '#fff' }}>
      <style>{'body{margin:0}'}</style>
      <div style={{ position: 'absolute', left: 0, top: 0 }}>
        <TopPanel />
      </div>
      <div style={{ position: 'absolute', left: 242, top: 65, width: 55, height: 103, background: '#fff' }} />
      <div style={{ position: 'absolute', left: 238, top: 64 }}>
        <TiltInset />
      </div>
      <div style={{ position: 'absolute', left: 0, top: 173 }}>
        <AmpPanel />
      </div>
      <div style={{ position: 'absolute', left: 0, top: 237 }}>
        <MotionPanel />
      </div>
      <Overlay />
    </div>
  );
}
